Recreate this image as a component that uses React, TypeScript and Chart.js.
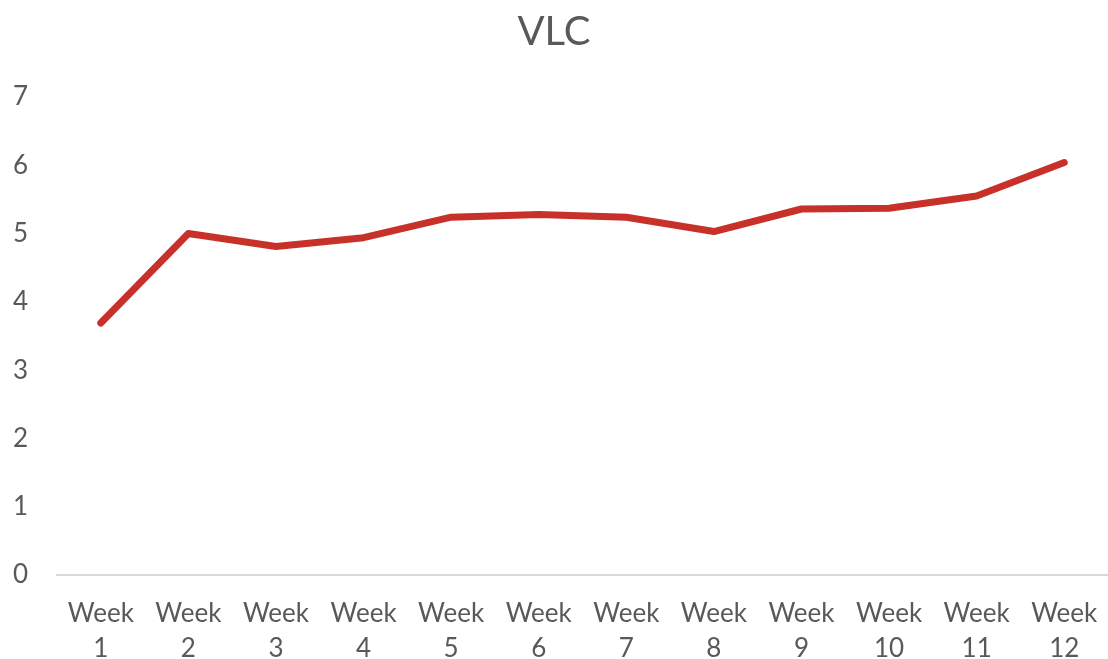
import React, { useEffect, useRef } from "react";
import { Chart, registerables } from "chart.js";

Chart.register(...registerables);

const title = "VLC";
const categories: string[][] = [
  ["Week", "1"], ["Week", "2"], ["Week", "3"], ["Week", "4"],
  ["Week", "5"], ["Week", "6"], ["Week", "7"], ["Week", "8"],
  ["Week", "9"], ["Week", "10"], ["Week", "11"], ["Week", "12"],
];
const vlcValues: number[] = [3.69, 5.0, 4.81, 4.94, 5.24, 5.28, 5.24, 5.03, 5.36, 5.37, 5.55, 6.04];
const yMin = 0;
const yMax = 7;
const yStep = 1;

const FONT = "Lato, 'Open Sans', sans-serif";
const TEXT = "#595959";

export default function App() {
  const ref = useRef<HTMLCanvasElement | null>(null);
  useEffect(() => {
    if (!ref.current) return;
    const chart = new Chart(ref.current, {
      type: "line",
      data: {
        labels: categories,
        datasets: [
          {
            label: title,
            data: vlcValues,
            borderColor: "#C8302A",
            borderWidth: 7,
            borderCapStyle: "round",
            borderJoinStyle: "round",
            pointRadius: 0,
            tension: 0,
            fill: false,
          },
        ],
      },
      options: {
        animation: false,
        responsive: false,
        maintainAspectRatio: false,
        layout: { padding: { left: 0, right: 0, top: 0, bottom: 0 } },
        plugins: {
          legend: { display: false },
          tooltip: { enabled: false },
          title: {
            display: true,
            text: title,
            color: TEXT,
            font: { family: FONT, size: 40, weight: "normal" },
            padding: { top: 8, bottom: 41 },
          },
        },
        scales: {
          x: {
            offset: true,
            grid: { display: false, drawTicks: false },
            border: { display: true, color: "#D9D9D9", width: 2 },
            ticks: {
              color: TEXT,
              font: { family: FONT, size: 26, lineHeight: 1.35 },
              padding: 21,
              maxRotation: 0,
              autoSkip: false,
            },
            afterFit: (s: any) => {
              s.height = 84;
              s.paddingLeft = 0;
              s.paddingRight = 0;
            },
          },
          y: {
            min: yMin,
            max: yMax,
            grid: { display: false, drawTicks: false },
            border: { display: false },
            ticks: {
              stepSize: yStep,
              color: TEXT,
              font: { family: FONT, size: 26 },
              padding: 29,
            },
            afterFit: (s: any) => {
              s.width = 57;
            },
          },
        },
      },
    });
    return () => chart.destroy();
  }, []);
  return (
    <div style={{ position: "fixed", left: 0, top: 0, width: 1108, height: 659, background: "#fff" }}>
      <canvas ref={ref} width={1108} height={659} style={{ display: "block" }} />
    </div>
  );
}
